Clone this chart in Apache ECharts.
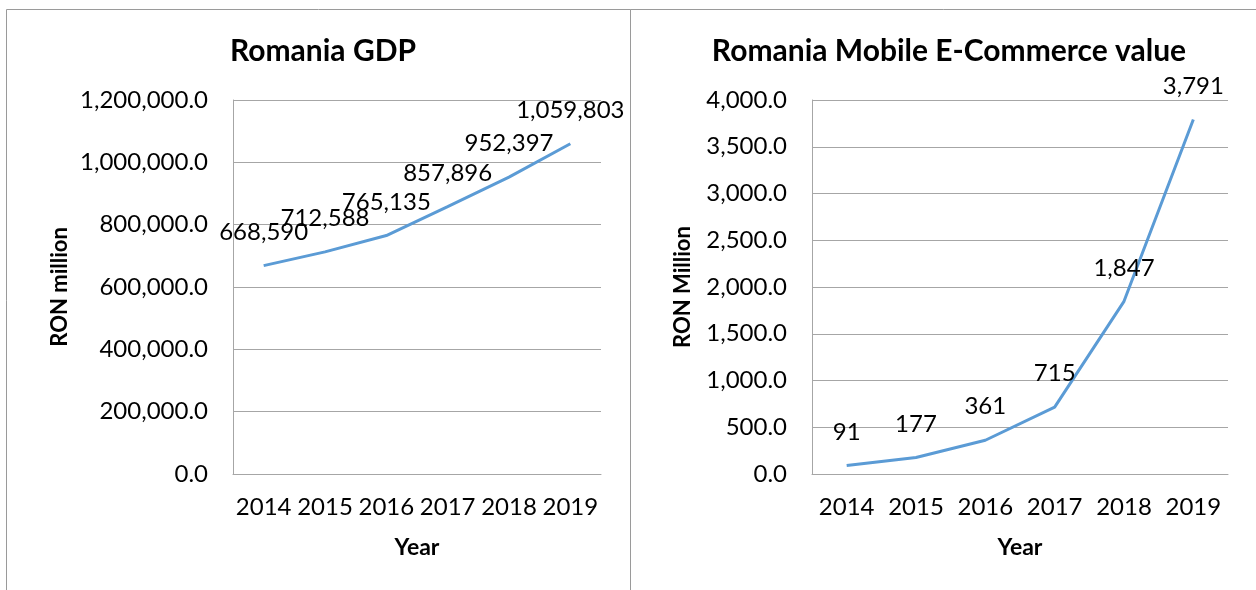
<!DOCTYPE html>
<html>
<head>
<meta charset="utf-8">
<script src="https://cdn.jsdelivr.net/npm/echarts@6/dist/echarts.min.js"></script>
<style>
html,body{margin:0;padding:0;background:#fff;}
#chart{width:1256px;height:590px;}
</style>
</head>
<body>
<div id="chart"></div>
<script>
const years = ['2014', '2015', '2016', '2017', '2018', '2019'];
const gdpValues = [668590, 712588, 765135, 857896, 952397, 1059803];
const mobileValues = [91, 177, 361, 715, 1847, 3791];
const leftTitle = 'Romania GDP';
const rightTitle = 'Romania Mobile E-Commerce value';
const leftYName = 'RON million';
const rightYName = 'RON Million';
const xName = 'Year';

const FONT = 'Lato, "Open Sans", sans-serif';
const fmtAxis = v => v.toLocaleString('en-US', {minimumFractionDigits: 1, maximumFractionDigits: 1});
const fmtLabel = p => Math.round(p.value).toLocaleString('en-US');
const gridColor = '#a6a6a6';
const lineColor = '#5b9bd5';

function xAxis(gridIndex) {
  return {
    type: 'category', gridIndex, data: years, boundaryGap: true,
    axisLine: {show: true, lineStyle: {color: gridColor, width: 1}},
    axisTick: {show: false},
    axisLabel: {color: '#000', fontFamily: FONT, fontSize: 24, margin: 21, interval: 0},
    name: xName, nameLocation: 'middle', nameGap: 62,
    nameTextStyle: {color: '#000', fontFamily: FONT, fontSize: 23, fontWeight: 'bold'}
  };
}
function yAxis(gridIndex, max, interval, name, gap) {
  return {
    type: 'value', gridIndex, min: 0, max, interval,
    axisLine: {show: true, lineStyle: {color: gridColor, width: 1}},
    axisTick: {show: false},
    splitLine: {show: true, lineStyle: {color: gridColor, width: 1}},
    axisLabel: {color: '#000', fontFamily: FONT, fontSize: 24, margin: 25, formatter: fmtAxis},
    name, nameLocation: 'middle', nameGap: gap,
    nameTextStyle: {color: '#000', fontFamily: FONT, fontSize: 22, fontWeight: 'bold'}
  };
}
function series(i, data) {
  return {
    type: 'line', xAxisIndex: i, yAxisIndex: i, data, smooth: false,
    symbol: 'circle', symbolSize: 1, showSymbol: true,
    itemStyle: {color: 'rgba(0,0,0,0)'},
    lineStyle: {color: lineColor, width: 3},
    label: {show: true, position: 'top', distance: 21, color: '#000', fontFamily: FONT, fontSize: 24, formatter: fmtLabel},
    labelLayout: {hideOverlap: false}
  };
}

const chart = echarts.init(document.getElementById('chart'), null, {renderer: 'canvas'});
chart.setOption({
  backgroundColor: '#fff',
  animation: false,
  graphic: [
    {type: 'rect', shape: {x: 6.5, y: 9.5, width: 624, height: 600}, style: {fill: 'none', stroke: '#9a9a9a', lineWidth: 1}, z: -1},
    {type: 'rect', shape: {x: 630.5, y: 9.5, width: 640, height: 600}, style: {fill: 'none', stroke: '#9a9a9a', lineWidth: 1}, z: -1}
  ],
  title: [
    {text: leftTitle, left: 318, top: 31, textAlign: 'center',
     textStyle: {fontFamily: FONT, fontSize: 30, fontWeight: 'bold', color: '#000'}},
    {text: rightTitle, left: 944, top: 31, textAlign: 'center',
     textStyle: {fontFamily: FONT, fontSize: 30, fontWeight: 'bold', color: '#000'}}
  ],
  grid: [
    {left: 233, top: 100, width: 368, height: 374, containLabel: false},
    {left: 812, top: 100, width: 416, height: 374, containLabel: false}
  ],
  xAxis: [xAxis(0), xAxis(1)],
  yAxis: [yAxis(0, 1200000, 200000, leftYName, 162), yAxis(1, 4000, 500, rightYName, 118)],
  series: [series(0, gdpValues), series(1, mobileValues)]
});
</script>
</body>
</html>
